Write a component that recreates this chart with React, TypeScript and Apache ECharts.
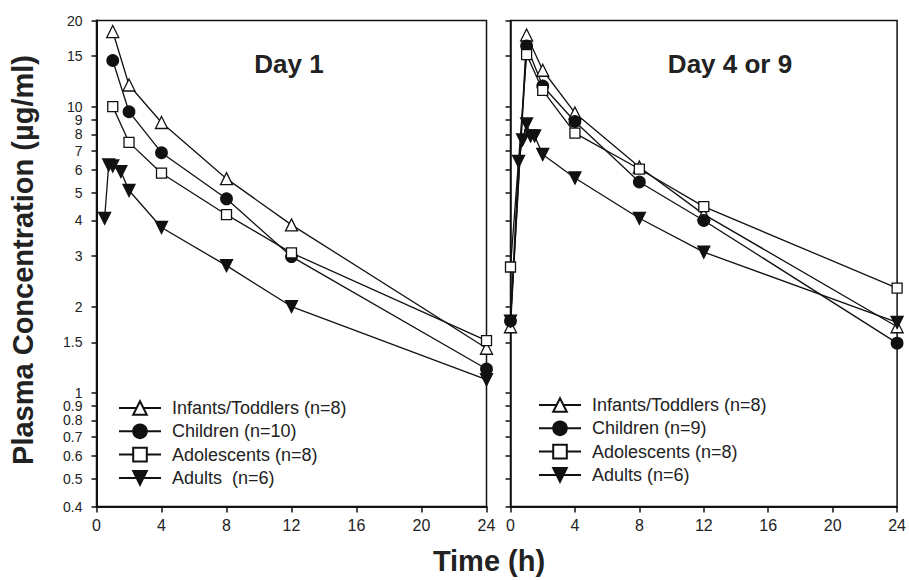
import React, { useEffect, useRef } from 'react';
import * as echarts from 'echarts';

const FONT = "'Liberation Sans', Arial, Helvetica, sans-serif";

const Y_TICKS = [0.4, 0.5, 0.6, 0.7, 0.8, 0.9, 1, 1.5, 2, 3, 4, 5, 6, 7, 8, 9, 10, 15, 20];
const GROUPS = ['infants', 'children', 'adolescents', 'adults'];

// Day 1 panel
const day1Names = ['Infants/Toddlers (n=8)', 'Children (n=10)', 'Adolescents (n=8)', 'Adults  (n=6)'];
const day1InfantsTime = [1, 2, 4, 8, 12, 24];
const day1InfantsConc = [18.3, 11.9, 8.8, 5.6, 3.86, 1.43];
const day1ChildrenTime = [1, 2, 4, 8, 12, 24];
const day1ChildrenConc = [14.5, 9.6, 6.9, 4.76, 2.99, 1.21];
const day1AdolescentsTime = [1, 2, 4, 8, 12, 24];
const day1AdolescentsConc = [10.0, 7.5, 5.85, 4.19, 3.08, 1.52];
const day1AdultsTime = [0.5, 0.75, 1, 1.5, 2, 4, 8, 12, 24];
const day1AdultsConc = [4.07, 6.25, 6.2, 5.93, 5.09, 3.78, 2.78, 2.0, 1.11];

// Day 4 or 9 panel
const day4Names = ['Infants/Toddlers (n=8)', 'Children (n=9)', 'Adolescents (n=8)', 'Adults (n=6)'];
const day4InfantsTime = [0, 1, 2, 4, 8, 12, 24];
const day4InfantsConc = [1.7, 17.8, 13.4, 9.5, 6.15, 4.2, 1.7];
const day4ChildrenTime = [0, 1, 2, 4, 8, 12, 24];
const day4ChildrenConc = [1.78, 16.3, 11.8, 8.87, 5.45, 4.0, 1.49];
const day4AdolescentsTime = [0, 1, 2, 4, 8, 12, 24];
const day4AdolescentsConc = [2.75, 15.2, 11.4, 8.08, 6.05, 4.47, 2.32];
const day4AdultsTime = [0, 0.5, 0.75, 1, 1.25, 1.5, 2, 4, 8, 12, 24];
const day4AdultsConc = [1.78, 6.43, 7.65, 8.7, 7.9, 7.9, 6.8, 5.63, 4.07, 3.1, 1.76];

const INK = '#111';

const SYMBOLS: Record<string, any> = {
  infants: { symbol: 'triangle', rotate: 0, size: 12, fill: '#fff' },
  children: { symbol: 'circle', rotate: 0, size: 11.5, fill: INK },
  adolescents: { symbol: 'rect', rotate: 0, size: 10, fill: '#fff' },
  adults: { symbol: 'triangle', rotate: 180, size: 12, fill: INK },
};

function pairs(t: number[], c: number[]) {
  return t.map((x, i) => [x, c[i]]);
}

function makeSeries(name: string, group: string, t: number[], c: number[], idx: number) {
  const s = SYMBOLS[group];
  return {
    type: 'line',
    name,
    xAxisIndex: idx,
    yAxisIndex: idx,
    data: pairs(t, c),
    symbol: s.symbol,
    symbolRotate: s.rotate,
    symbolSize: s.size,
    showAllSymbol: true,
    clip: false,
    lineStyle: { color: INK, width: 1.3 },
    itemStyle: { color: s.fill, borderColor: INK, borderWidth: 1.3 },
    emphasis: { disabled: true },
  };
}

function fmt(v: number) {
  return String(Number(Number(v).toPrecision(3)));
}

function makeXAxis(idx: number) {
  return {
    type: 'value',
    gridIndex: idx,
    min: 0,
    max: 24,
    interval: 4,
    axisLine: { show: true, lineStyle: { color: INK, width: 2 } },
    axisTick: { show: true, inside: false, length: 6, lineStyle: { color: INK, width: 1.5 } },
    axisLabel: { show: true, margin: 11, fontSize: 16, fontFamily: FONT, color: '#222' },
    splitLine: { show: false },
  };
}

function makeYAxis(idx: number, labels: boolean) {
  return {
    type: 'log',
    logBase: 10,
    gridIndex: idx,
    min: 0.4,
    max: 20,
    axisLine: { show: true, onZero: false, lineStyle: { color: INK, width: labels ? 2 : 1.5 } },
    axisTick: { show: true, inside: false, length: 5, customValues: Y_TICKS, lineStyle: { color: INK, width: 1.5 } },
    axisLabel: {
      show: labels,
      customValues: Y_TICKS,
      margin: 14,
      fontSize: 14,
      lineHeight: 12,
      fontFamily: FONT,
      color: '#222',
      formatter: (v: number) => fmt(v),
    },
    splitLine: { show: false },
    minorTick: { show: false },
  };
}

export default function App() {
  const ref = useRef<HTMLDivElement>(null);

  useEffect(() => {
    if (!ref.current) return;
    const chart = echarts.init(ref.current, undefined, { renderer: 'svg' });

    const series = [
      makeSeries(day1Names[0], GROUPS[0], day1InfantsTime, day1InfantsConc, 0),
      makeSeries(day1Names[1], GROUPS[1], day1ChildrenTime, day1ChildrenConc, 0),
      makeSeries(day1Names[2], GROUPS[2], day1AdolescentsTime, day1AdolescentsConc, 0),
      makeSeries(day1Names[3], GROUPS[3], day1AdultsTime, day1AdultsConc, 0),
      makeSeries(day4Names[0], GROUPS[0], day4InfantsTime, day4InfantsConc, 1),
      makeSeries(day4Names[1], GROUPS[1], day4ChildrenTime, day4ChildrenConc, 1),
      makeSeries(day4Names[2], GROUPS[2], day4AdolescentsTime, day4AdolescentsConc, 1),
      makeSeries(day4Names[3], GROUPS[3], day4AdultsTime, day4AdultsConc, 1),
    ];

    const legendCommon = {
      orient: 'vertical',
      padding: 0,
      itemWidth: 42,
      itemHeight: 17,
      itemGap: 5.3,
      selectedMode: false,
      textStyle: { fontSize: 18, lineHeight: 18, fontFamily: FONT, color: '#222', padding: [0, 0, 0, 6] },
    };

    chart.setOption({
      animation: false,
      backgroundColor: '#fff',
      grid: [
        { left: 96.5, top: 20.5, width: 390, height: 486, show: true, borderColor: INK, borderWidth: 1.5, backgroundColor: 'transparent' },
        { left: 510.5, top: 20.5, width: 389.5, height: 486, show: true, borderColor: INK, borderWidth: 1.5, backgroundColor: 'transparent' },
      ],
      xAxis: [makeXAxis(0), makeXAxis(1)],
      yAxis: [makeYAxis(0, true), makeYAxis(1, false)],
      legend: [
        { ...legendCommon, data: day1Names, left: 118, top: 399 },
        { ...legendCommon, data: day4Names, left: 538, top: 396 },
      ],
      graphic: [
        { type: 'text', x: 289, y: 64, style: { text: 'Day 1', font: `bold 26px ${FONT}`, fill: '#222', align: 'center', verticalAlign: 'middle' } },
        { type: 'text', x: 730, y: 64, style: { text: 'Day 4 or 9', font: `bold 26px ${FONT}`, fill: '#222', align: 'center', verticalAlign: 'middle' } },
        { type: 'text', x: 22.5, y: 260, rotation: Math.PI / 2, style: { text: 'Plasma Concentration (µg/ml)', font: `bold 29px ${FONT}`, fill: '#222', align: 'center', verticalAlign: 'middle' } },
        { type: 'text', x: 489, y: 561, style: { text: 'Time (h)', font: `bold 29px ${FONT}`, fill: '#222', align: 'center', verticalAlign: 'middle' } },
      ],
      series,
    });

    return () => chart.dispose();
  }, []);

  return <div ref={ref} style={{ position: 'absolute', left: 0, top: 0, width: 909, height: 580 }} />;
}
